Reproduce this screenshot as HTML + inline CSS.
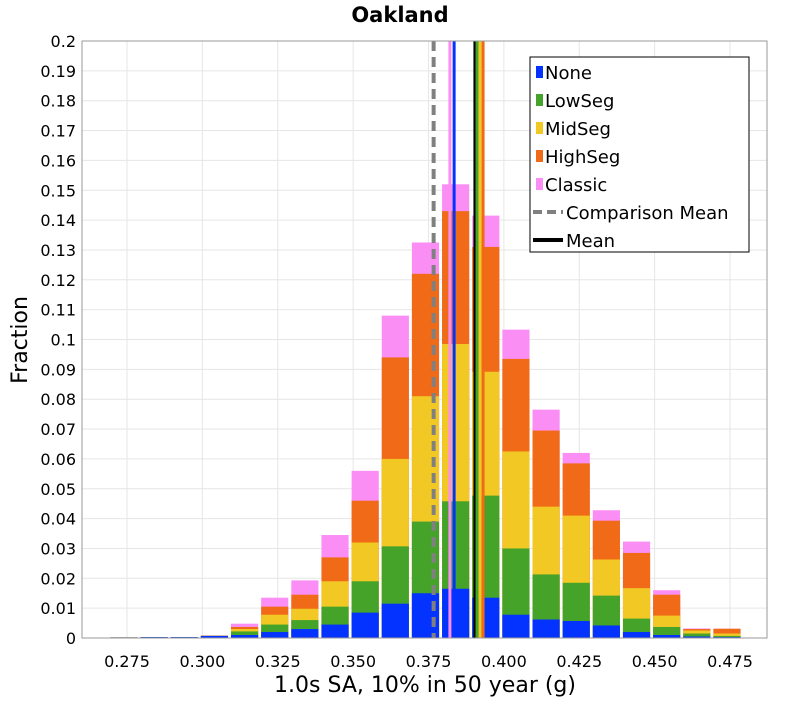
<!DOCTYPE html>
<html><head><meta charset="utf-8"><style>
body{margin:0;background:#fff;font-family:"Liberation Sans","DejaVu Sans",sans-serif}
svg text{font-family:"DejaVu Sans","Liberation Sans",sans-serif}
</style></head><body>
<svg id="chart" width="800" height="700" xmlns="http://www.w3.org/2000/svg">
<text x="400" y="22" text-anchor="middle" font-size="21" font-weight="bold">Oakland</text>
<g id="grid"></g><g id="bars"></g><g id="lines"></g><g id="axes"></g>
<text x="425" y="692" text-anchor="middle" font-size="22">1.0s SA, 10% in 50 year (g)</text>
<text transform="translate(27,340) rotate(-90)" text-anchor="middle" font-size="22">Fraction</text>
<g>
<rect x="530" y="57" width="219" height="195" fill="#fff" stroke="#000" stroke-width="1"/>
<g id="legend"></g></g>
</svg>
<script>
const binCenters=[0.274,0.284,0.294,0.304,0.314,0.324,0.334,0.344,0.354,0.364,0.374,0.384,0.394,0.404,0.414,0.424,0.434,0.444,0.454,0.464,0.474];
const cumNone=[0.0002,0.0003,0.0003,0.0007,0.001,0.002,0.003,0.0045,0.0085,0.0115,0.015,0.0165,0.0135,0.0078,0.0062,0.0057,0.0042,0.002,0.001,0.0005,0.0003];
const cumLow=[0.0002,0.0003,0.0003,0.0007,0.0022,0.0045,0.006,0.0105,0.019,0.0307,0.039,0.0458,0.0477,0.03,0.0213,0.0185,0.0142,0.0065,0.0037,0.0015,0.0007];
const cumMid=[0.0002,0.0003,0.0003,0.0007,0.003,0.0078,0.0098,0.019,0.032,0.06,0.081,0.0985,0.0892,0.0625,0.044,0.041,0.0263,0.0167,0.0075,0.0025,0.0015];
const cumHigh=[0.0002,0.0003,0.0003,0.0008,0.0037,0.0105,0.0145,0.027,0.046,0.094,0.122,0.143,0.131,0.0935,0.0695,0.0585,0.0393,0.0285,0.0145,0.003,0.0031];
const cumClassic=[0.0002,0.0003,0.0003,0.0008,0.0048,0.0135,0.0193,0.0345,0.056,0.108,0.1325,0.152,0.1415,0.1033,0.0765,0.062,0.0428,0.0323,0.016,0.0032,0.0031];
const seriesNames=["None","LowSeg","MidSeg","HighSeg","Classic"];
const seriesColors=["#0433ff","#45a32a","#f2c924","#f06a17","#fb8ef4"];
const meanNames=["Classic","None","Mean","LowSeg","MidSeg","HighSeg"];
const meanValues=[0.3821,0.3835,0.3904,0.3911,0.3921,0.3931];
const meanColors=["#fb8ef4","#0433ff","#000","#45a32a","#f2c924","#f06a17"];
const comparisonMean=0.3767;
const xTicks=[0.275,0.300,0.325,0.350,0.375,0.400,0.425,0.450,0.475];
const yTicks=[0,0.01,0.02,0.03,0.04,0.05,0.06,0.07,0.08,0.09,0.1,0.11,0.12,0.13,0.14,0.15,0.16,0.17,0.18,0.19,0.2];
const binWidth=0.01;
const NS="http://www.w3.org/2000/svg";
const X0=82,X1=767,Y0=638,Y1=41;
const xs=v=>127+(v-0.275)*3015;
const ys=v=>Y0-(v/0.2)*(Y0-Y1);
function mk(tag,attrs,parent){const e=document.createElementNS(NS,tag);for(const k in attrs)e.setAttribute(k,attrs[k]);parent.appendChild(e);return e;}
const grid=document.getElementById('grid'),axes=document.getElementById('axes'),bars=document.getElementById('bars'),lines=document.getElementById('lines'),leg=document.getElementById('legend');
const bg=mk('rect',{x:X0,y:Y1,width:X1-X0,height:Y0-Y1,fill:'#fff',stroke:'#aaa'},grid);


yTicks.forEach(t=>{
 const l=mk('line',{x1:X0,x2:X1,y1:ys(t),y2:ys(t),stroke:'#e6e6e6'},grid);
 
 
 const tx=mk('text',{x:X0-6,y:ys(t)+6,'text-anchor':'end','font-size':16},axes);
 tx.textContent=String(t);
 
 
});
xTicks.forEach(t=>{
 const l=mk('line',{x1:xs(t),x2:xs(t),y1:Y1,y2:Y0,stroke:'#e6e6e6'},grid);
 
 
 const tx=mk('text',{x:xs(t),y:Y0+29,'text-anchor':'middle','font-size':16},axes);
 tx.textContent=t.toFixed(3);
 
 
});
const cums=[cumNone,cumLow,cumMid,cumHigh,cumClassic];
binCenters.forEach((c,i)=>{
 const xa=xs(c-binWidth/2)+1.5,xb=xs(c+binWidth/2)-1.5;
 for(let s=4;s>=0;s--){
  const v=cums[s][i];
  const r=mk('rect',{x:xa,y:ys(v),width:xb-xa,height:Y0-ys(v),fill:seriesColors[s]},bars);
  
  
 }
});
const cm=mk('line',{x1:xs(comparisonMean),x2:xs(comparisonMean),y1:Y1,y2:Y0,stroke:'#808080','stroke-width':4,'stroke-dasharray':'10,6'},lines);


meanValues.forEach((v,i)=>{
 const l=mk('line',{x1:xs(v),x2:xs(v),y1:Y1,y2:Y0,stroke:meanColors[i],'stroke-width':3},lines);
 
 
});
const ax=mk('rect',{x:X0,y:Y1,width:X1-X0,height:Y0-Y1,fill:'none',stroke:'#999'},axes);


const legItems=seriesNames.concat(["Comparison Mean","Mean"]);
legItems.forEach((n,i)=>{
 const y=72+i*28;
 if(i<5){const r=mk('rect',{x:536,y:y-6,width:7,height:12,fill:seriesColors[i]},leg);}
 else{const l=mk('line',{x1:533,x2:563,y1:y,y2:y,stroke:i==5?'#808080':'#000','stroke-width':4,'stroke-dasharray':i==5?'9,5':'none'},leg);}
 const t=mk('text',{x:i<5?545:566,y:y+7,'font-size':18},leg);
 t.textContent=n;
 
 
});
</script>
</body></html>
